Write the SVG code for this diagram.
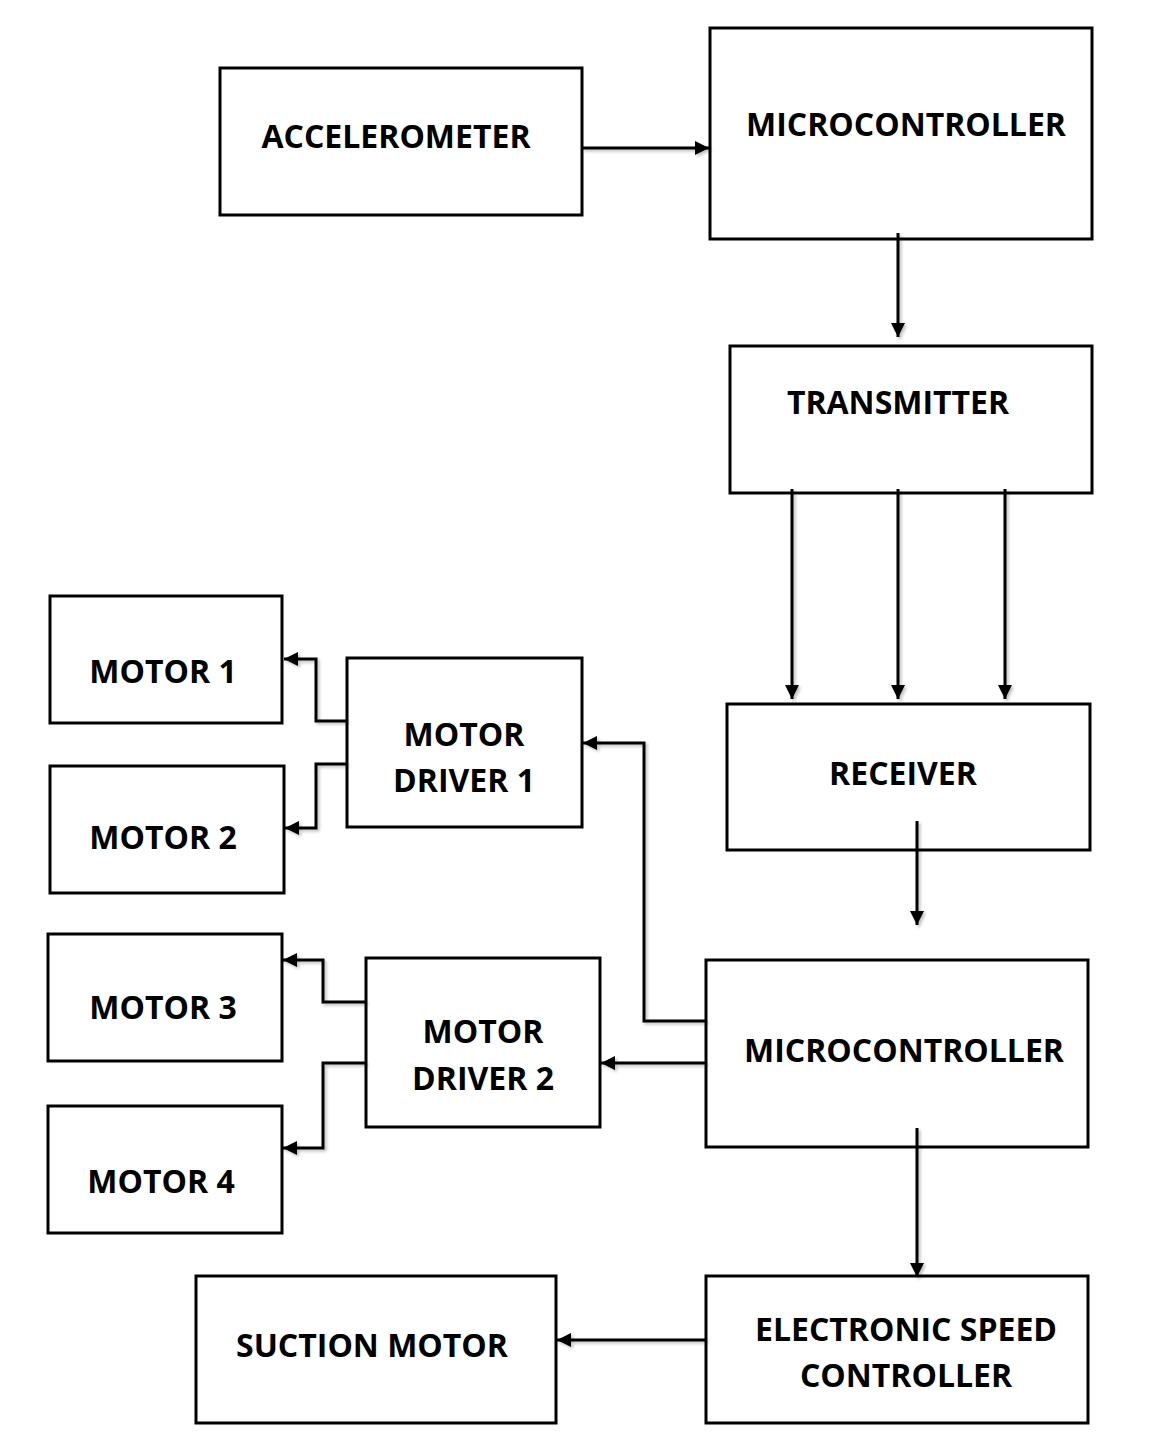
<svg xmlns="http://www.w3.org/2000/svg" width="1152" height="1446" viewBox="0 0 1152 1446">
<style>
.box{fill:#fff;stroke:#000;stroke-width:3}
.lbl{font-family:"Open Sans","Liberation Sans",sans-serif;font-weight:bold;font-size:32px;fill:#000;text-anchor:middle}
.con{fill:none;stroke:#000;stroke-width:3;marker-end:url(#ah)}
</style>
<defs>
<marker id="ah" markerUnits="userSpaceOnUse" markerWidth="15" markerHeight="15" refX="14" refY="7" orient="auto">
<path d="M0,0 L14,7 L0,14 z" fill="#000"/>
</marker>
<filter id="sh" x="-20%" y="-20%" width="140%" height="140%">
<feDropShadow dx="2" dy="2" stdDeviation="1.5" flood-color="#000" flood-opacity="0.25"/>
</filter>
</defs>
<rect width="1152" height="1446" fill="#fff"/>
<g id="accelerometer"><rect class="box" x="220" y="68" width="362" height="147"/><text class="lbl" x="396" y="148">ACCELEROMETER</text></g>
<g id="microcontroller1"><rect class="box" x="710" y="28" width="382" height="211"/><text class="lbl" x="906" y="136">MICROCONTROLLER</text></g>
<g id="transmitter"><rect class="box" x="730" y="346" width="362" height="147"/><text class="lbl" x="898" y="414">TRANSMITTER</text></g>
<g id="receiver"><rect class="box" x="727" y="704" width="363" height="146"/><text class="lbl" x="903" y="785">RECEIVER</text></g>
<g id="microcontroller2"><rect class="box" x="706" y="960" width="382" height="187"/><text class="lbl" x="904" y="1062">MICROCONTROLLER</text></g>
<g id="esc"><rect class="box" x="706" y="1276" width="382" height="147"/><text class="lbl" x="906" y="1341">ELECTRONIC SPEED</text><text class="lbl" x="906" y="1387">CONTROLLER</text></g>
<g id="suction-motor"><rect class="box" x="196" y="1276" width="360" height="147"/><text class="lbl" x="372" y="1357">SUCTION MOTOR</text></g>
<g id="motor-driver1"><rect class="box" x="347" y="658" width="235" height="169"/><text class="lbl" x="464" y="746">MOTOR</text><text class="lbl" x="464" y="792">DRIVER 1</text></g>
<g id="motor-driver2"><rect class="box" x="366" y="958" width="234" height="169"/><text class="lbl" x="483" y="1043">MOTOR</text><text class="lbl" x="483" y="1090">DRIVER 2</text></g>
<g id="motor1"><rect class="box" x="50" y="596" width="232" height="127"/><text class="lbl" x="163" y="683">MOTOR 1</text></g>
<g id="motor2"><rect class="box" x="50" y="766" width="234" height="127"/><text class="lbl" x="163" y="849">MOTOR 2</text></g>
<g id="motor3"><rect class="box" x="48" y="934" width="234" height="127"/><text class="lbl" x="163" y="1019">MOTOR 3</text></g>
<g id="motor4"><rect class="box" x="48" y="1106" width="234" height="127"/><text class="lbl" x="161" y="1193">MOTOR 4</text></g>
<g id="connectors" filter="url(#sh)">
<path class="con" d="M582,148 H709"/>
<path class="con" d="M898,233 V337"/>
<path class="con" d="M792,489 V699"/>
<path class="con" d="M898,489 V699"/>
<path class="con" d="M1005,489 V699"/>
<path class="con" d="M917,821 V925"/>
<path class="con" d="M706,1021 H644 V743 H583"/>
<path class="con" d="M706,1063 H601"/>
<path class="con" d="M917,1128 V1277"/>
<path class="con" d="M706,1340 H557"/>
<path class="con" d="M347,721 H316 V659 H284"/>
<path class="con" d="M347,764 H316 V828 H285"/>
<path class="con" d="M366,1002 H323 V960 H283"/>
<path class="con" d="M366,1063 H323 V1148 H283"/>
</g>
</svg>
